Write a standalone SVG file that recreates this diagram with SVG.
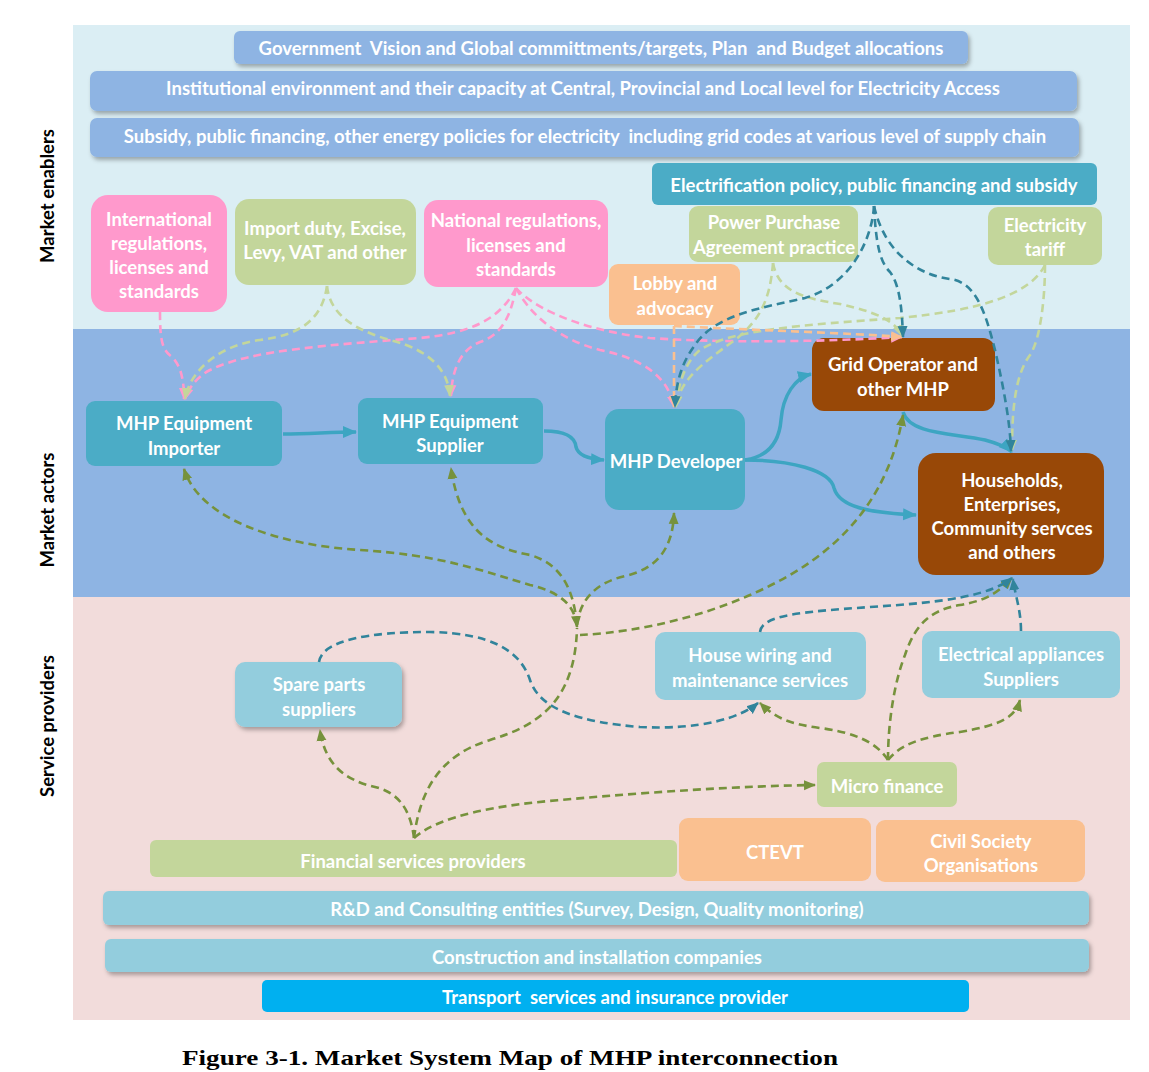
<svg xmlns="http://www.w3.org/2000/svg" width="1149" height="1072" viewBox="0 0 1149 1072">
<defs>
<filter id="sh" x="-5%" y="-20%" width="110%" height="160%"><feDropShadow dx="2" dy="3" stdDeviation="2" flood-color="#000" flood-opacity="0.3"/></filter>
<marker id="mSolid" markerUnits="userSpaceOnUse" markerWidth="14" markerHeight="14" viewBox="0 0 14 14" refX="13" refY="7" orient="auto"><path d="M0,1 L14,7 L0,13 Z" fill="#3DA5C2"/></marker>
<marker id="mTeal" markerUnits="userSpaceOnUse" markerWidth="12" markerHeight="12" viewBox="0 0 12 12" refX="11" refY="6" orient="auto"><path d="M0,1 L12,6 L0,11 Z" fill="#31849B"/></marker>
<marker id="mPink" markerUnits="userSpaceOnUse" markerWidth="12" markerHeight="12" viewBox="0 0 12 12" refX="11" refY="6" orient="auto"><path d="M0,1 L12,6 L0,11 Z" fill="#FF99CC"/></marker>
<marker id="mLg" markerUnits="userSpaceOnUse" markerWidth="12" markerHeight="12" viewBox="0 0 12 12" refX="11" refY="6" orient="auto"><path d="M0,1 L12,6 L0,11 Z" fill="#C3D69B"/></marker>
<marker id="mOr" markerUnits="userSpaceOnUse" markerWidth="12" markerHeight="12" viewBox="0 0 12 12" refX="11" refY="6" orient="auto"><path d="M0,1 L12,6 L0,11 Z" fill="#FAC090"/></marker>
<marker id="mOl" markerUnits="userSpaceOnUse" markerWidth="12" markerHeight="12" viewBox="0 0 12 12" refX="11" refY="6" orient="auto-start-reverse"><path d="M0,1 L12,6 L0,11 Z" fill="#76923C"/></marker>
</defs>
<style>
.t{font-family:Lato,"Open Sans","Liberation Sans",sans-serif;font-weight:bold;fill:#fff;font-size:18.5px;text-anchor:middle;dominant-baseline:central;white-space:pre}
.lab{font-family:Lato,"Open Sans","Liberation Sans",sans-serif;font-weight:bold;fill:#000;font-size:18.5px;text-anchor:middle;dominant-baseline:central}
.bar{fill:#8EB4E3}
.teal{fill:#4BACC6}
.pink{fill:#FF99CC}
.grn{fill:#C3D69B}
.org{fill:#FAC090}
.brn{fill:#984807}
.lb{fill:#93CDDD}
.c{fill:none;stroke-width:2.6;stroke-dasharray:8 5}
.solid{fill:none;stroke:#3DA5C2;stroke-width:3.5;marker-end:url(#mSolid)}
.ct{stroke:#31849B;marker-end:url(#mTeal)}
.cp{stroke:#FF99CC;marker-end:url(#mPink)}
.cg{stroke:#C3D69B;marker-end:url(#mLg)}
.co{stroke:#FAC090;marker-end:url(#mOr)}
.cv{stroke:#76923C;marker-end:url(#mOl)}
</style>
<rect x="0" y="0" width="1149" height="1072" fill="#fff"/>
<g id="bands">
<rect x="73" y="25" width="1057" height="304" fill="#DBEEF4"/>
<rect x="73" y="329" width="1057" height="268" fill="#8EB4E3"/>
<rect x="73" y="597" width="1057" height="423" fill="#F2DCDB"/>
</g>
<g id="band-labels">
<text class="lab" transform="translate(47,196) rotate(-90)">Market enablers</text>
<text class="lab" transform="translate(47,510) rotate(-90)">Market actors</text>
<text class="lab" transform="translate(47,726) rotate(-90)">Service providers</text>
</g>
<g id="n-gov"><rect class="bar" x="234" y="31" width="734" height="33" rx="6" filter="url(#sh)"/><text class="t" x="601" y="48">Government  Vision and Global committments/targets, Plan  and Budget allocations</text></g>
<g id="n-inst"><rect class="bar" x="90" y="71" width="987" height="40" rx="7" filter="url(#sh)"/><text class="t" x="583" y="88">Institutional environment and their capacity at Central, Provincial and Local level for Electricity Access</text></g>
<g id="n-subsidy"><rect class="bar" x="90" y="118" width="989" height="39" rx="7" filter="url(#sh)"/><text class="t" x="585" y="136">Subsidy, public financing, other energy policies for electricity  including grid codes at various level of supply chain</text></g>
<g id="n-electrification"><rect class="teal" x="652" y="163" width="445" height="42" rx="6"/><text class="t" x="874" y="185">Electrification policy, public financing and subsidy</text></g>
<g id="n-intl"><rect class="pink" x="91" y="195" width="136" height="117" rx="17"/><text class="t" x="159" y="219">International</text><text class="t" x="159" y="243">regulations,</text><text class="t" x="159" y="267">licenses and</text><text class="t" x="159" y="291">standards</text></g>
<g id="n-import"><rect class="grn" x="235" y="199" width="181" height="86" rx="14"/><text class="t" x="325" y="228">Import duty, Excise,</text><text class="t" x="325" y="252">Levy, VAT and other</text></g>
<g id="n-national"><rect class="pink" x="424" y="200" width="184" height="87" rx="14"/><text class="t" x="516" y="220">National regulations,</text><text class="t" x="516" y="245">licenses and</text><text class="t" x="516" y="269">standards</text></g>
<g id="n-ppa"><rect class="grn" x="689" y="206" width="169" height="56" rx="9"/><text class="t" x="774" y="222">Power Purchase</text><text class="t" x="774" y="247">Agreement practice</text></g>
<g id="n-lobby"><rect class="org" x="609" y="264" width="131" height="61" rx="9"/><text class="t" x="675" y="283">Lobby and</text><text class="t" x="675" y="308">advocacy</text></g>
<g id="n-tariff"><rect class="grn" x="988" y="207" width="114" height="58" rx="10"/><text class="t" x="1045" y="225">Electricity</text><text class="t" x="1045" y="249">tariff</text></g>
<g id="n-grid"><rect class="brn" x="812" y="338" width="183" height="73" rx="12"/><text class="t" x="903" y="364">Grid Operator and</text><text class="t" x="903" y="389">other MHP</text></g>
<g id="n-households"><rect class="brn" x="918" y="453" width="186" height="122" rx="18"/><text class="t" x="1012" y="480">Households,</text><text class="t" x="1012" y="504">Enterprises,</text><text class="t" x="1012" y="528">Community servces</text><text class="t" x="1012" y="552">and others</text></g>
<g id="n-importer"><rect class="teal" x="86" y="401" width="196" height="65" rx="9"/><text class="t" x="184" y="423">MHP Equipment</text><text class="t" x="184" y="448">Importer</text></g>
<g id="n-supplier"><rect class="teal" x="358" y="398" width="185" height="66" rx="9"/><text class="t" x="450" y="421">MHP Equipment</text><text class="t" x="450" y="445">Supplier</text></g>
<g id="n-developer"><rect class="teal" x="605" y="409" width="140" height="101" rx="14"/><text class="t" x="676" y="461">MHP Developer</text></g>
<g id="n-spare"><rect class="lb" x="235" y="662" width="167" height="65" rx="10" filter="url(#sh)"/><text class="t" x="319" y="684">Spare parts</text><text class="t" x="319" y="709">suppliers</text></g>
<g id="n-wiring"><rect class="lb" x="655" y="632" width="211" height="68" rx="10"/><text class="t" x="760" y="655">House wiring and</text><text class="t" x="760" y="680">maintenance services</text></g>
<g id="n-appliances"><rect class="lb" x="922" y="631" width="198" height="67" rx="10"/><text class="t" x="1021" y="654">Electrical appliances</text><text class="t" x="1021" y="679">Suppliers</text></g>
<g id="n-micro"><rect class="grn" x="817" y="762" width="140" height="45" rx="7"/><text class="t" x="887" y="786">Micro finance</text></g>
<g id="n-financial"><rect class="grn" x="150" y="840" width="527" height="37" rx="6"/><text class="t" x="413" y="861">Financial services providers</text></g>
<g id="n-ctevt"><rect class="org" x="679" y="818" width="192" height="63" rx="9"/><text class="t" x="775" y="852">CTEVT</text></g>
<g id="n-civil"><rect class="org" x="876" y="820" width="209" height="62" rx="9"/><text class="t" x="981" y="841">Civil Society</text><text class="t" x="981" y="865">Organisations</text></g>
<g id="n-rnd"><rect class="lb" x="103" y="891" width="986" height="34" rx="6" filter="url(#sh)"/><text class="t" x="597" y="909">R&amp;D and Consulting entities (Survey, Design, Quality monitoring)</text></g>
<g id="n-construction"><rect class="lb" x="105" y="939" width="984" height="33" rx="6" filter="url(#sh)"/><text class="t" x="597" y="957">Construction and installation companies</text></g>
<g id="n-transport"><rect x="262" y="980" width="707" height="32" rx="5" fill="#00B0F0"/><text class="t" x="615" y="997">Transport  services and insurance provider</text></g>
<g id="connectors">
<path class="solid" d="M283,434 C310,434 330,432 356,432"/>
<path class="solid" d="M544,431 C565,431 575,436 576,447 C578,455 588,459 604,460"/>
<path class="solid" d="M745,460 C765,457 779,445 781,420 C783,395 795,378 811,374"/>
<path class="solid" d="M745,460 C790,460 830,470 834,488 C840,510 880,513 916,515"/>
<path class="solid" d="M903,412 C910,435 955,433 985,440 C1000,444 1008,448 1012,452"/>
<path class="c cp" d="M160,312 C160,340 162,350 172,357 C181,366 184,380 184,399"/>
<path class="c cp" d="M516,288 C500,320 470,333 420,338 C330,345 250,350 210,370 C195,378 188,390 185,399"/>
<path class="c cp" d="M516,288 C510,320 500,335 480,342 C460,350 452,370 451,396"/>
<path class="c cp" d="M516,288 C530,315 560,340 600,350 C640,358 668,375 674,407"/>
<path class="c cp" d="M516,288 C540,315 600,333 650,338 C720,343 820,342 902,337"/>
<path class="c cg" d="M327,286 C322,320 300,335 260,340 C220,345 190,370 185,399"/>
<path class="c cg" d="M327,286 C330,315 355,330 390,340 C430,350 448,370 450,396"/>
<path class="c cg" d="M773,263 C770,300 760,320 735,340 C700,365 680,380 676,407"/>
<path class="c cg" d="M773,263 C778,290 800,298 840,304 C875,312 895,320 902,336"/>
<path class="c cg" d="M1045,265 C1030,295 980,310 900,318 C800,325 730,330 700,350 C685,362 678,385 676,407"/>
<path class="c cg" d="M1045,265 C1045,300 1040,340 1030,355 C1015,375 1012,410 1012,451"/>
<path class="c co" d="M674,326 L674,407"/>
<path class="c co" d="M674,326 C750,330 850,333 902,337"/>
<path class="c ct" d="M874,206 C872,240 850,285 805,298 C760,308 715,315 695,345 C680,365 676,385 675,407"/>
<path class="c ct" d="M874,206 C876,245 880,262 890,272 C900,285 902,310 903,337"/>
<path class="c ct" d="M874,206 C885,255 920,275 950,279 C975,282 985,310 995,350 C1003,385 1010,420 1011,451"/>
<path class="c cv" marker-start="url(#mOl)" d="M577,627 C575,605 560,592 530,585 C480,570 440,555 360,550 C280,545 200,520 184,469"/>
<path class="c cv" d="M577,625 C574,595 565,565 530,555 C490,548 460,530 451,468"/>
<path class="c cv" d="M577,625 C580,600 595,583 625,576 C660,568 673,545 674,513"/>
<path class="c cv" d="M580,635 C640,632 720,615 790,575 C850,540 890,490 903,415"/>
<path class="c" stroke="#76923C" d="M414,838 C420,790 440,755 490,740 C540,725 575,700 577,628"/>
<path class="c cv" d="M414,838 C410,805 395,792 375,787 C345,780 325,765 320,730"/>
<path class="c cv" d="M414,838 C440,815 500,805 560,800 C650,792 740,786 815,785"/>
<path class="c cv" d="M888,760 C875,740 850,732 820,728 C790,724 775,718 760,703"/>
<path class="c cv" d="M888,760 C900,745 920,737 960,732 C1000,725 1015,718 1020,700"/>
<path class="c cv" d="M888,760 C888,720 895,680 905,655 C915,625 930,610 960,605 C990,600 1000,590 1012,578"/>
<path class="c ct" d="M319,662 C322,640 370,632 430,632 C490,633 520,650 530,680 C540,710 580,722 640,727 C700,730 740,718 758,703"/>
<path class="c ct" d="M760,632 C762,615 800,612 870,607 C950,602 990,595 1012,578"/>
<path class="c ct" d="M1021,631 C1021,610 1015,595 1013,579"/>
</g>
<text x="182" y="1065" font-family="'Liberation Serif','DejaVu Serif',serif" font-weight="bold" font-size="22" textLength="656" lengthAdjust="spacingAndGlyphs" fill="#000">Figure 3-1. Market System Map of MHP interconnection</text>
</svg>
